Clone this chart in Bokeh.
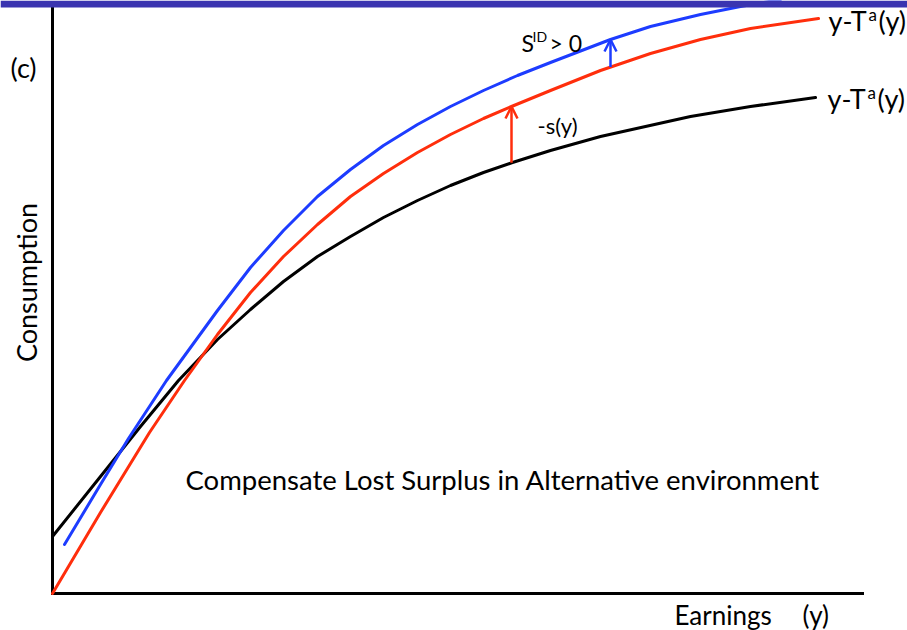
import numpy as np
from bokeh.plotting import figure
from bokeh.models import Range1d, Label, Arrow, OpenHead
from bokeh.embed import file_html
from bokeh.resources import INLINE

# ---------------- data (schematic units: earnings y, consumption c) ----------------
# black curve: y - T^a(y)
earn_black = [0, 48, 88, 126, 165, 198, 231, 265, 298, 331, 365, 398, 431, 460, 498, 548, 593, 638, 698, 763]
cons_black = [57, 117, 167, 213, 254, 284, 312, 337, 357, 376, 393, 408, 421, 431, 443, 457, 467, 477, 487, 496]

# red curve: y - T^a(y) - s(y)
earn_red = [0, 48, 97, 132, 165, 198, 231, 265, 298, 331, 365, 398, 431, 459, 498, 548, 598, 648, 698, 766]
cons_red = [0, 81, 161, 213, 259, 301, 337, 369, 397, 420, 441, 459, 475, 487, 503, 523, 540, 554, 565, 575]

# blue curve: compensated schedule (S^ID > 0)
earn_blue = [12, 48, 76, 114, 165, 198, 231, 265, 298, 331, 365, 398, 431, 465, 498, 558, 598, 648, 688, 728]
cons_blue = [49, 109, 155, 213, 283, 326, 363, 397, 424, 448, 469, 487, 503, 518, 531, 554, 567, 579, 587, 594]

# arrows drawn at these earnings levels
arrow_s_x = 459     # -s(y): from black up to red
arrow_sid_x = 558   # S^ID > 0: from red up to blue

# axes extent
AXIS_X_END = 810
AXIS_Y_END = 586

# view window
X_LO, X_HI = -52, 855
Y_LO, Y_HI = -37, 593
BAR_BOTTOM = 586          # slide header band

FONT = "Lato"
BLACK = "#000000"
RED = "#ff2e0c"
BLUE = "#1d3cff"
BAR = "#3a34b0"

W, H = 907, 630

p = figure(width=W, height=H, output_backend="svg", toolbar_location=None,
           x_range=Range1d(X_LO, X_HI), y_range=Range1d(Y_LO, Y_HI),
           x_axis_location=None, y_axis_location=None,
           min_border=0)
p.grid.visible = False
p.outline_line_color = None
p.background_fill_color = "white"
p.border_fill_color = "white"

# axes as plain lines
p.line([0, AXIS_X_END], [0, 0], line_color=BLACK, line_width=3, line_cap="square")
p.line([0, 0], [0, AXIS_Y_END], line_color=BLACK, line_width=3, line_cap="square")

p.line(earn_black, cons_black, line_color=BLACK, line_width=3, line_join="round", line_cap="round")
p.line(earn_red, cons_red, line_color=RED, line_width=3, line_join="round", line_cap="round")
p.line(earn_blue, cons_blue, line_color=BLUE, line_width=3, line_join="round", line_cap="round")

# header band (covers the curves running off the top)
p.quad(left=[X_LO], right=[X_HI], bottom=[BAR_BOTTOM], top=[Y_HI],
       fill_color=BAR, line_color=None)

# arrows (positions derived from the curves)
ys0 = float(np.interp(arrow_s_x, earn_black, cons_black))
ys1 = float(np.interp(arrow_s_x, earn_red, cons_red))
p.add_layout(Arrow(x_start=arrow_s_x, y_start=ys0, x_end=arrow_s_x, y_end=ys1,
                   line_color=RED, line_width=2.5,
                   end=OpenHead(size=12, line_color=RED, line_width=2.5)))
yb0 = float(np.interp(arrow_sid_x, earn_red, cons_red))
yb1 = float(np.interp(arrow_sid_x, earn_blue, cons_blue))
p.add_layout(Arrow(x_start=arrow_sid_x, y_start=yb0, x_end=arrow_sid_x, y_end=yb1,
                   line_color=BLUE, line_width=2.5,
                   end=OpenHead(size=12, line_color=BLUE, line_width=2.5)))


def lab(text, x, y, size, angle=0.0, align="left", baseline="middle"):
    p.add_layout(Label(x=x, y=y, text=text, text_font=FONT, text_font_size=f"{size}px",
                       text_color=BLACK, text_align=align, text_baseline=baseline,
                       angle=angle))


lab("(c)", -42, 526, 27)
lab("Consumption", -26.5, 311, 27, angle=np.pi / 2, align="center")
lab("Earnings", 622, -21, 26)
lab("(y)", 750, -21, 26)
lab("Compensate Lost Surplus in Alternative environment", 133, 114, 27.5)
lab("-s(y)", 485, 468, 22)
lab("S", 469, 551, 23)
lab("ID", 480, 557, 14)
lab("> 0", 497, 551, 23)
# curve end labels
lab("y-T", 776, 573, 27)
lab("a", 816, 579, 17)
lab("(y)", 826, 573, 27)
lab("y-T", 775, 495, 27)
lab("a", 815, 501, 17)
lab("(y)", 825, 495, 27)

open("out.html", "w").write(file_html(p, INLINE))
